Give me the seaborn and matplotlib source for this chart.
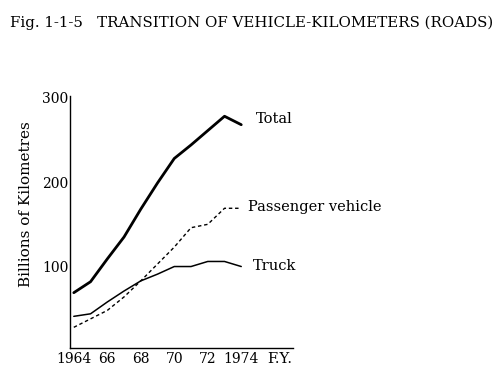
import pandas as pd
import matplotlib.pyplot as plt
import seaborn as sns

# Vehicle-kilometres on roads, billions
years = [1964, 1965, 1966, 1967, 1968, 1969, 1970, 1971, 1972, 1973, 1974]
total = [69, 82, 109, 135, 168, 199, 228, 244, 261, 278, 268]
passenger = [28, 38, 48, 64, 83, 103, 123, 146, 150, 169, 169]
truck = [41, 44, 58, 71, 83, 91, 100, 100, 106, 106, 100]

tick_years = [1964, 1966, 1968, 1970, 1972, 1974]
tick_labels = ['1964', '66', '68', '70', '72', '1974']

sns.set_style('white')
plt.rcParams['font.family'] = ['DejaVu Serif']
plt.rcParams['text.color'] = 'black'
plt.rcParams['axes.labelcolor'] = 'black'

df = pd.DataFrame({'year': years, 'Total': total,
                   'Passenger vehicle': passenger, 'Truck': truck})

fig = plt.figure(figsize=(5.02, 3.75), dpi=100)
ax = fig.add_axes([0.139, 0.072, 0.445, 0.672])

sns.lineplot(data=df, x='year', y='Total', ax=ax, color='black', linewidth=2.0)
sns.lineplot(data=df, x='year', y='Passenger vehicle', ax=ax, color='black',
             linewidth=1.0, linestyle=(0, (2.5, 2)))
sns.lineplot(data=df, x='year', y='Truck', ax=ax, color='black', linewidth=1.1)

ax.set_xlim(1963.76, 1977.1)
ax.set_ylim(3.5, 302)
ax.set_xticks(tick_years)
ax.set_xticklabels(tick_labels)
ax.set_xticks([y for y in years if y not in tick_years], minor=True)
ax.set_yticks([100, 200, 300])
ax.tick_params(axis='both', direction='in', length=4, width=1, labelsize=10, color='black', labelcolor='black')
ax.tick_params(axis='x', which='minor', direction='in', length=2.5, width=1)
ax.tick_params(axis='x', pad=3)
ax.tick_params(axis='y', pad=1)

for s in ['top', 'right']:
    ax.spines[s].set_visible(False)
for s in ['left', 'bottom']:
    ax.spines[s].set_color('black')
    ax.spines[s].set_linewidth(1.0)

ax.set_xlabel('')
ax.set_ylabel('Billions of Kilometres', fontsize=11)
ax.yaxis.set_label_coords(-0.165, 0.57)

ax.text(1974.9, 275, 'Total', fontsize=10.5, va='center', ha='left')
ax.text(1974.4, 170, 'Passenger vehicle', fontsize=10.5, va='center', ha='left')
ax.text(1974.7, 101, 'Truck', fontsize=10.5, va='center', ha='left')
ax.text(1975.55, -1.5, 'F.Y.', fontsize=10.5, va='top', ha='left')

fig.text(0.02, 0.94, 'Fig. 1-1-5   TRANSITION OF VEHICLE-KILOMETERS (ROADS)', fontsize=10.8, ha='left', va='center')

fig.savefig('out.png', dpi=100)
